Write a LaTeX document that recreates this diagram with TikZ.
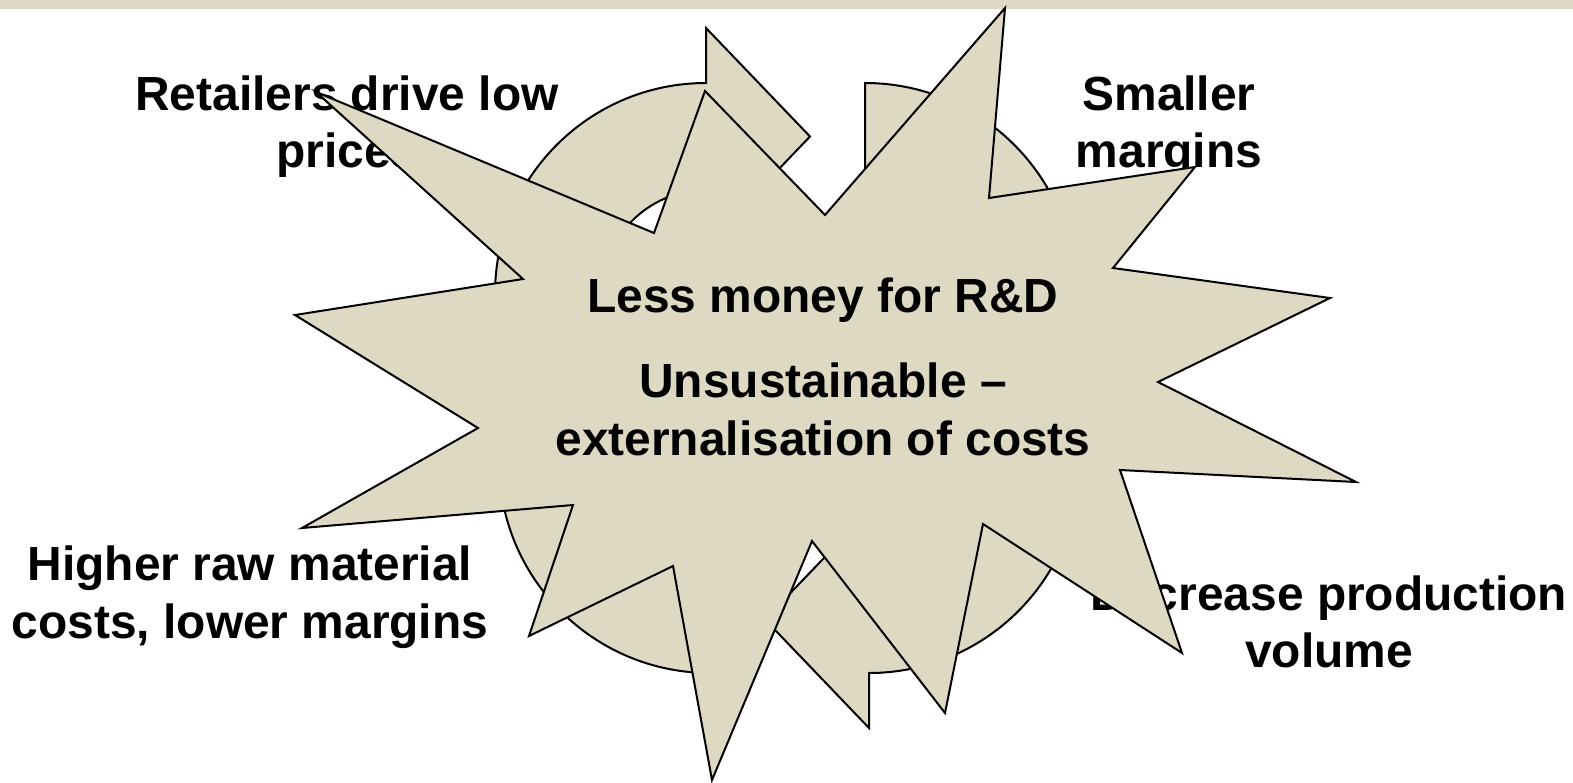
\documentclass[tikz,border=0pt]{standalone}
\usepackage{fontspec}
\setmainfont{Liberation Sans}
\definecolor{beige}{HTML}{DDD9C3}
\begin{document}
\begin{tikzpicture}[x=1pt,y=1pt,
  shapefill/.style={fill=beige, draw=black, line width=2pt, line join=miter},
  lbl/.style={font=\fontsize{47.9}{57.5}\selectfont\bfseries, anchor=base, inner sep=0pt, text=black}]
\useasboundingbox (0,0) rectangle (1573,-782);
% top band
\fill[beige] (0,0) rectangle (1573,-9);
% cycle arrows
\draw[shapefill] (602,-294) -- (495,-294) arc[start angle=180, end angle=90, radius=211]
  -- (706,-28) -- (810,-136.5) -- (706,-245) -- (706,-190)
  arc[start angle=90, end angle=180, radius=104] -- cycle;
\draw[shapefill] (865,-190) -- (865,-83) arc[start angle=90, end angle=0, radius=211]
  -- (1131,-294) -- (1022.5,-398) -- (914,-294) -- (969,-294)
  arc[start angle=0, end angle=90, radius=104] -- cycle;
\draw[shapefill] (973,-462) -- (1080,-462) arc[start angle=0, end angle=-90, radius=211]
  -- (869,-728) -- (765,-619.5) -- (869,-511) -- (869,-566)
  arc[start angle=-90, end angle=0, radius=104] -- cycle;
\draw[shapefill] (710,-566) -- (710,-673) arc[start angle=270, end angle=180, radius=211]
  -- (444,-462) -- (552.5,-358) -- (661,-462) -- (606,-462)
  arc[start angle=180, end angle=270, radius=104] -- cycle;
% corner labels
\node[lbl] (tl1) at (347,-110) {Retailers drive low};
\node[lbl] (tl2) at (347,-167.5) {prices};
\node[lbl] (tr1) at (1169,-110) {Smaller};
\node[lbl] (tr2) at (1169,-167.5) {margins};
\node[lbl] (bl1) at (250,-580.5) {Higher raw material};
\node[lbl] (bl2) at (250,-638) {costs, lower margins};
\node[lbl] (br1) at (1329,-610) {Decrease production};
\node[lbl] (br2) at (1329,-667.5) {volume};
% explosion
\draw[shapefill] (1005,-8) -- (989,-198) -- (1195,-167) -- (1113,-268) -- (1330,-298)
  -- (1158,-382) -- (1356,-482) -- (1120,-470) -- (1182,-653) -- (983,-524)
  -- (945,-713) -- (812,-541) -- (712,-780) -- (673,-566) -- (529,-636)
  -- (573,-505) -- (302,-528) -- (478,-428) -- (295,-315) -- (523,-279)
  -- (316,-92) -- (654,-233) -- (705,-91) -- (825,-215) -- cycle;
% centre text
\node[lbl] (c1) at (823,-312) {Less money for R\&D};
\node[lbl] (c2) at (823,-397) {Unsustainable –};
\node[lbl] (c3) at (823,-455) {externalisation of costs};
\end{tikzpicture}
\end{document}
